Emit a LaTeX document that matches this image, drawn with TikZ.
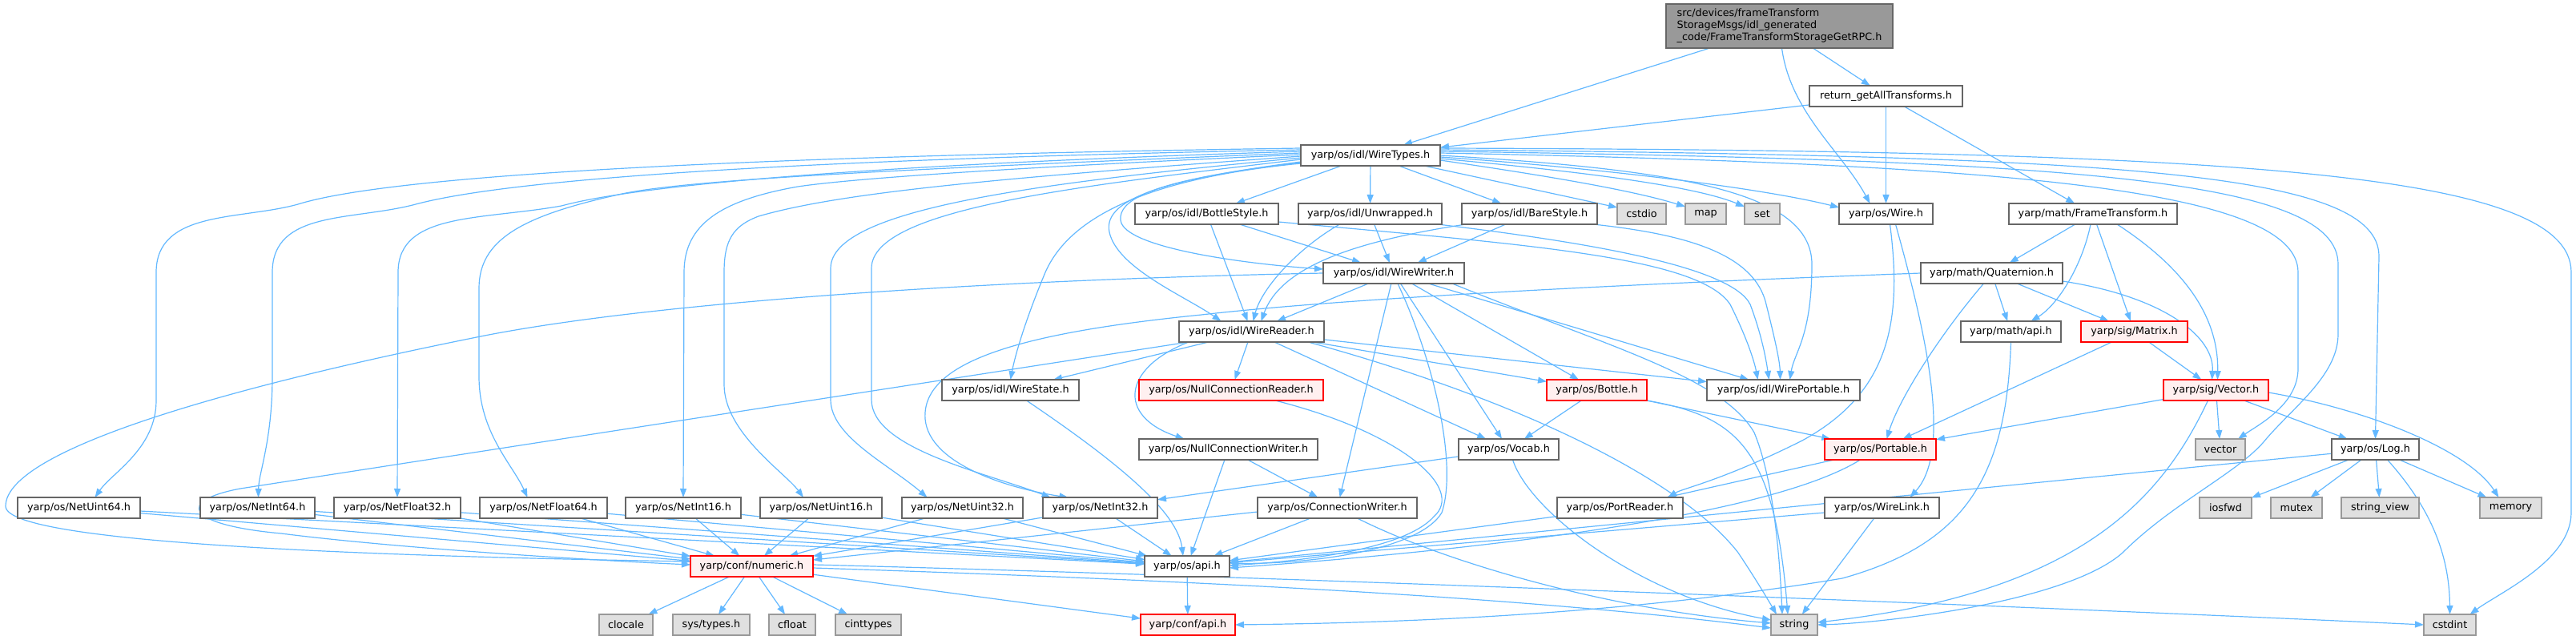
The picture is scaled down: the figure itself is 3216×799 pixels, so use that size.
\documentclass[tikz,border=0pt]{standalone}
\usepackage{fontspec}
\setmainfont{DejaVu Sans}
\usetikzlibrary{arrows.meta,calc}
\definecolor{edgec}{HTML}{63B8FF}
\definecolor{bordc}{HTML}{666666}
\definecolor{mainf}{HTML}{999999}
\definecolor{redb}{HTML}{FF0000}
\definecolor{redf}{HTML}{FFF0F0}
\definecolor{sysf}{HTML}{E0E0E0}
\definecolor{sysb}{HTML}{999999}
\pgfdeclarelayer{bg}
\pgfsetlayers{bg,main}
\begin{document}
\begin{tikzpicture}[x=1pt,y=-1pt,
  box/.style={draw=bordc, fill=white, line width=1.3pt, inner sep=0pt, outer sep=0pt, minimum height=26pt, font=\fontsize{12.8}{15}\selectfont},
  redbox/.style={box, draw=redb, fill=redf},
  sysbox/.style={box, draw=sysb, fill=sysf},
  ar/.style={draw=edgec, line width=1.2pt, -{Triangle[length=11pt,width=8pt]}}]
\useasboundingbox (0,0) rectangle (3216,799);
% nodes
\node[box, fill=mainf, minimum width=283pt, minimum height=55pt, align=left] (M) at (2221.5,32.5) {src/devices/frameTransform\\StorageMsgs/idl\_generated\\\_code/FrameTransformStorageGetRPC.h};
\node[box, minimum width=191pt] (RG) at (2354.5,120) {return\_getAllTransforms.h};
\node[box, minimum width=174pt] (WT) at (1711,194) {yarp/os/idl/WireTypes.h};
\node[box, minimum width=179pt] (BS) at (1506.5,267) {yarp/os/idl/BottleStyle.h};
\node[box, minimum width=179pt] (UW) at (1710.5,267) {yarp/os/idl/Unwrapped.h};
\node[box, minimum width=169pt] (BA) at (1909.5,267) {yarp/os/idl/BareStyle.h};
\node[sysbox, minimum width=61pt] (cstdio) at (2049.5,267) {cstdio};
\node[sysbox, minimum width=51pt] (map) at (2129.5,267) {map};
\node[sysbox, minimum width=44pt] (set) at (2200,267) {set};
\node[box, minimum width=117pt] (Wire) at (2354.5,267) {yarp/os/Wire.h};
\node[box, minimum width=210pt] (FT) at (2613,267) {yarp/math/FrameTransform.h};
\node[box, minimum width=176pt] (WW) at (1740,341) {yarp/os/idl/WireWriter.h};
\node[box, minimum width=177pt] (Quat) at (2486.5,341) {yarp/math/Quaternion.h};
\node[box, minimum width=181pt] (WR) at (1562.5,414) {yarp/os/idl/WireReader.h};
\node[box, minimum width=125pt] (mathapi) at (2510.5,414) {yarp/math/api.h};
\node[redbox, minimum width=133pt] (Matrix) at (2664.5,414) {yarp/sig/Matrix.h};
\node[box, minimum width=171pt] (WS) at (1261.5,487) {yarp/os/idl/WireState.h};
\node[redbox, minimum width=230pt] (NCR) at (1537,487) {yarp/os/NullConnectionReader.h};
\node[redbox, minimum width=125pt] (Bottle) at (1993.5,487) {yarp/os/Bottle.h};
\node[box, minimum width=191pt] (WP) at (2226.5,487) {yarp/os/idl/WirePortable.h};
\node[redbox, minimum width=131pt] (Vector) at (2766.5,487) {yarp/sig/Vector.h};
\node[box, minimum width=223pt] (NCW) at (1533.5,561) {yarp/os/NullConnectionWriter.h};
\node[box, minimum width=125pt] (Vocab) at (1883.5,561) {yarp/os/Vocab.h};
\node[redbox, minimum width=139pt] (Portable) at (2347.5,561) {yarp/os/Portable.h};
\node[sysbox, minimum width=62pt] (vector) at (2772,561) {vector};
\node[box, minimum width=109pt] (Log) at (2965.5,561) {yarp/os/Log.h};
\node[box, minimum width=153pt] (NU64) at (98.5,634) {yarp/os/NetUint64.h};
\node[box, minimum width=143pt] (NI64) at (321.5,634) {yarp/os/NetInt64.h};
\node[box, minimum width=158pt] (NF32) at (496,634) {yarp/os/NetFloat32.h};
\node[box, minimum width=159pt] (NF64) at (678.5,634) {yarp/os/NetFloat64.h};
\node[box, minimum width=144pt] (NI16) at (853,634) {yarp/os/NetInt16.h};
\node[box, minimum width=152pt] (NU16) at (1025,634) {yarp/os/NetUint16.h};
\node[box, minimum width=151pt] (NU32) at (1201.5,634) {yarp/os/NetUint32.h};
\node[box, minimum width=143pt] (NI32) at (1373.5,634) {yarp/os/NetInt32.h};
\node[box, minimum width=199pt] (ConnW) at (1669.5,634) {yarp/os/ConnectionWriter.h};
\node[box, minimum width=157pt] (PortReader) at (2022.5,634) {yarp/os/PortReader.h};
\node[box, minimum width=143pt] (WireLink) at (2349.5,634) {yarp/os/WireLink.h};
\node[sysbox, minimum width=65pt] (iosfwd) at (2778.5,634) {iosfwd};
\node[sysbox, minimum width=64pt] (mutex) at (2867,634) {mutex};
\node[sysbox, minimum width=97pt] (strview) at (2971.5,634) {string\_view};
\node[sysbox, minimum width=77pt] (memory) at (3134.5,634) {memory};
\node[redbox, minimum width=153pt] (numeric) at (938.5,707) {yarp/conf/numeric.h};
\node[box, minimum width=106pt] (osapi) at (1482,707) {yarp/os/api.h};
\node[sysbox, minimum width=67pt] (clocale) at (781.5,780) {clocale};
\node[sysbox, minimum width=96pt] (systypes) at (888,780) {sys/types.h};
\node[sysbox, minimum width=58pt] (cfloat) at (989,780) {cfloat};
\node[sysbox, minimum width=82pt] (cinttypes) at (1084,780) {cinttypes};
\node[redbox, minimum width=118pt] (confapi) at (1483,780) {yarp/conf/api.h};
\node[sysbox, minimum width=58pt] (string) at (2240,780) {string};
\node[sysbox, minimum width=65pt] (cstdint) at (3058.5,780) {cstdint};
\begin{pgfonlayer}{bg}
% main and return_getAllTransforms
\draw[ar] (M) -- (WT);
\draw[ar] (M) -- (RG);
\draw[ar] ($(M.south)+(3,0)$) .. controls (2235,140) and (2300,190) .. ($(Wire.north)+(-20,0)$);
\draw[ar] (RG) -- (WT);
\draw[ar] (RG) -- (Wire);
\draw[ar] (RG) -- (FT);
% WireTypes, near
\draw[ar] (WT) -- (BS);
\draw[ar] (WT) -- (UW);
\draw[ar] (WT) -- (BA);
\draw[ar] ($(WT.south east)+(-20,0)$) -- ($(cstdio.west)+(0,-8)$);
\draw[ar] ($(WT.east)+(0,6)$) .. controls (1900,215) and (2030,235) .. ($(map.west)+(0,-9)$);
\draw[ar] ($(WT.east)+(0,4)$) .. controls (1950,212) and (2110,230) .. ($(set.west)+(0,-9)$);
\draw[ar] ($(WT.east)+(0,2)$) .. controls (2000,210) and (2200,235) .. ($(Wire.west)+(0,-8)$);
\draw[ar] ($(WT.east)+(0,0)$) .. controls (2100,212) and (2262,240) .. (2262,330) .. controls (2262,420) and (2240,440) .. ($(WP.north)+(8,0)$);
\draw[ar] ($(WT.east)+(0,-3)$) .. controls (2500,205) and (2869,235) .. (2869,340) -- (2869,460) .. controls (2869,505) and (2820,530) .. ($(vector.north)+(22,0)$);
\draw[ar] ($(WT.east)+(0,-5)$) .. controls (2600,200) and (2919,225) .. (2919,330) -- (2919,417) .. controls (2919,470) and (2860,510) .. (2825,553) .. controls (2790,592) and (2710,630) .. (2650,690) .. controls (2580,752) and (2350,778) .. (string.east);
\draw[ar] ($(WT.east)+(0,-7)$) .. controls (2650,195) and (2970,215) .. (2970,320) -- (Log.north);
\draw[ar] ($(WT.east)+(0,-9)$) .. controls (2800,188) and (3210,215) .. (3210,340) -- (3210,640) .. controls (3210,700) and (3120,740) .. ($(cstdint.north)+(25,0)$);
% WireTypes, left
\draw[ar] ($(WT.west)+(0,9)$) .. controls (1480,220) and (1395,240) .. (1399,275) .. controls (1403,310) and (1560,330) .. ($(WW.west)+(0,-5)$);
\draw[ar] ($(WT.west)+(0,8)$) .. controls (1470,222) and (1375,245) .. (1385,290) .. controls (1395,335) and (1480,370) .. ($(WR.north)+(-38,0)$);
\draw[ar] ($(WT.west)+(0,10)$) .. controls (1460,220) and (1340,260) .. (1305,340) .. controls (1282,395) and (1268,440) .. (WS.north);
\draw[ar] ($(WT.west)+(0,-9)$) .. controls (1000,194) and (500,215) .. (372,255) .. controls (300,275) and (195,262) .. (195,340) -- (195,500) .. controls (195,560) and (140,590) .. ($(NU64.north)+(20,0)$);
\draw[ar] ($(WT.west)+(0,-7)$) .. controls (1050,198) and (650,220) .. (519,255) .. controls (440,276) and (340,262) .. (340,340) -- (340,470) .. controls (340,550) and (323,590) .. ($(NI64.north)+(1,0)$);
\draw[ar] ($(WT.west)+(0,-5)$) .. controls (1100,205) and (800,230) .. (701,257) .. controls (600,275) and (497,265) .. (497,340) -- (NF32.north);
\draw[ar] ($(WT.west)+(0,-3)$) .. controls (1100,212) and (850,225) .. (772,243) .. controls (650,270) and (598,300) .. (598,360) -- (598,470) .. controls (598,540) and (640,580) .. ($(NF64.north)+(-20,0)$);
\draw[ar] ($(WT.west)+(0,-1)$) .. controls (1200,212) and (1050,225) .. (996,233) .. controls (900,250) and (854,280) .. (854,340) -- (NI16.north);
\draw[ar] ($(WT.west)+(0,1)$) .. controls (1250,222) and (1050,240) .. (947,270) .. controls (915,282) and (904,300) .. (904,340) -- (904,480) .. controls (904,540) and (980,590) .. ($(NU16.north)+(-22,0)$);
\draw[ar] ($(WT.west)+(0,3)$) .. controls (1300,228) and (1037,260) .. (1037,335) -- (1037,499) .. controls (1037,545) and (1110,580) .. ($(NU32.north)+(-44,0)$);
\draw[ar] ($(WT.west)+(0,5)$) .. controls (1350,232) and (1088,260) .. (1088,335) -- (1088,499) .. controls (1088,560) and (1230,590) .. ($(NI32.north)+(-62,0)$);
% BottleStyle, Unwrapped, BareStyle
\draw[ar] (BS) -- (WR);
\draw[ar] (BS) -- (WW);
\draw[ar] ($(BS.east)+(0,10)$) .. controls (1900,305) and (2120,320) .. (2160,380) .. controls (2180,420) and (2190,450) .. ($(WP.north)+(-32,0)$);
\draw[ar] ($(UW.south)+(-38,0)$) .. controls (1620,310) and (1575,360) .. ($(WR.north)+(2,0)$);
\draw[ar] (UW) -- (WW);
\draw[ar] ($(UW.south east)+(-5,0)$) .. controls (1960,300) and (2160,330) .. (2185,380) .. controls (2200,420) and (2205,450) .. ($(WP.north)+(-18,0)$);
\draw[ar] ($(BA.south west)+(5,0)$) .. controls (1700,300) and (1600,330) .. ($(WR.north)+(12,0)$);
\draw[ar] (BA) -- (WW);
\draw[ar] ($(BA.south east)+(-5,0)$) .. controls (2100,292) and (2190,315) .. (2205,380) .. controls (2215,420) and (2222,450) .. ($(WP.north)+(-4,0)$);
% WireWriter
\draw[ar] (WW) -- (WR);
\draw[ar] (WW) -- (ConnW);
\draw[ar] ($(WW.south)+(5,0)$) .. controls (1790,450) and (1820,580) .. (1800,640) .. controls (1770,690) and (1620,705) .. ($(osapi.east)+(0,-4)$);
\draw[ar] (WW) -- (Vocab);
\draw[ar] (WW) -- (Bottle);
\draw[ar] (WW) -- (WP);
\draw[ar] ($(WW.south east)+(-15,0)$) .. controls (2000,430) and (2150,470) .. (2190,540) .. controls (2215,600) and (2222,700) .. ($(string.north)+(-15,0)$);
\draw[ar] (WW.west) .. controls (1200,350) and (800,380) .. (600,420) .. controls (300,480) and (7,560) .. (7,632) .. controls (7,680) and (500,695) .. ($(numeric.west)+(0,-6)$);
% WireReader
\draw[ar] ($(WR.south west)+(12,0)$) -- (300,610) .. controls (220,625) and (230,655) .. (351,666) .. controls (500,685) and (750,700) .. ($(numeric.west)+(0,-2)$);
\draw[ar] (WR) -- (WS);
\draw[ar] ($(WR.south west)+(12,0)$) .. controls (1400,460) and (1395,520) .. ($(NCW.north)+(-55,0)$);
\draw[ar] (WR) -- (NCR);
\draw[ar] (WR) -- (Vocab);
\draw[ar] (WR) -- (Bottle);
\draw[ar] (WR) -- (WP);
\draw[ar] ($(WR.south east)+(-20,0)$) .. controls (1900,500) and (2100,600) .. (2170,690) .. controls (2190,720) and (2205,745) .. ($(string.north)+(-22,0)$);
% WireState, Null*, ConnectionWriter
\draw[ar] ($(WS.south)+(20,0)$) .. controls (1400,580) and (1470,640) .. ($(osapi.north)+(-5,0)$);
\draw[ar] ($(NCR.south)+(55,0)$) .. controls (1750,540) and (1830,610) .. (1790,645) .. controls (1750,690) and (1600,702) .. ($(osapi.east)+(0,-1)$);
\draw[ar] (NCW) -- (ConnW);
\draw[ar] (NCW) -- (osapi);
\draw[ar] ($(ConnW.west)+(0,5)$) -- ($(numeric.east)+(0,-8)$);
\draw[ar] (ConnW) -- (osapi);
\draw[ar] ($(ConnW.south)+(25,0)$) .. controls (1800,700) and (2000,760) .. ($(string.west)+(0,-2)$);
% Vocab, Bottle
\draw[ar] (Vocab) -- (NI32);
\draw[ar] ($(Vocab.south)+(5,0)$) .. controls (1910,640) and (2050,745) .. ($(string.west)+(0,-6)$);
\draw[ar] (Bottle) -- (Vocab);
\draw[ar] (Bottle) -- (Portable);
\draw[ar] (Bottle.south east) .. controls (2170,520) and (2215,560) .. ($(string.north)+(-8,0)$);
% Quaternion, FrameTransform, math
\draw[ar] (Quat.west) .. controls (2100,352) and (1700,370) .. (1500,393) .. controls (1280,415) and (1150,450) .. (1155,523) .. controls (1160,580) and (1260,610) .. ($(NI32.north)+(-40,0)$);
\draw[ar] ($(Quat.south)+(-10,0)$) .. controls (2420,420) and (2370,500) .. ($(Portable.north)+(8,0)$);
\draw[ar] (Quat) -- (mathapi);
\draw[ar] (Quat) -- (Matrix);
\draw[ar] ($(Quat.east)+(0,10)$) .. controls (2700,370) and (2765,420) .. ($(Vector.north)+(-5,0)$);
\draw[ar] (FT) -- (Quat);
\draw[ar] ($(FT.south)+(-3,0)$) .. controls (2600,330) and (2570,380) .. ($(mathapi.north)+(25,0)$);
\draw[ar] (FT) -- (Matrix);
\draw[ar] ($(FT.south)+(30,0)$) .. controls (2720,330) and (2770,390) .. ($(Vector.north)+(2,0)$);
\draw[ar] (Matrix) -- (Portable);
\draw[ar] (Matrix) -- (Vector);
\draw[ar] (mathapi.south) .. controls (2505,600) and (2450,680) .. (2300,722) .. controls (2000,772) and (1700,778) .. (confapi.east);
% Vector, Log
\draw[ar] (Vector) -- (Portable);
\draw[ar] (Vector) -- (vector);
\draw[ar] (Vector) -- (Log);
\draw[ar] ($(Vector.east)+(0,3)$) .. controls (2950,510) and (3080,560) .. ($(memory.north)+(-15,0)$);
\draw[ar] ($(Vector.south)+(-10,0)$) .. controls (2700,620) and (2600,740) .. ($(string.east)+(0,-3)$);
\draw[ar] (Log) -- (osapi);
\draw[ar] (Log) -- (iosfwd);
\draw[ar] (Log) -- (mutex);
\draw[ar] (Log) -- (strview);
\draw[ar] (Log) -- (memory);
\draw[ar] ($(Log.south)+(15,0)$) .. controls (3040,640) and (3058,700) .. (cstdint.north);
% Portable, PortReader, Wire, WireLink
\draw[ar] (Portable) -- (PortReader);
\draw[ar] ($(Portable.south)+(-25,0)$) .. controls (2200,650) and (1800,690) .. ($(osapi.east)+(0,2)$);
\draw[ar] (PortReader) -- (osapi);
\draw[ar] (WireLink) -- (osapi);
\draw[ar] (WireLink) -- (string);
\draw[ar] ($(Wire.south)+(5,0)$) .. controls (2375,400) and (2360,490) .. (2250,550) .. controls (2150,600) and (2100,610) .. ($(PortReader.north)+(60,0)$);
\draw[ar] ($(Wire.south)+(12,0)$) .. controls (2400,400) and (2440,560) .. ($(WireLink.north)+(35,0)$);
% Net types
\foreach \n in {NU64,NI64,NF32,NF64,NI16,NU16,NU32,NI32} {
  \draw[ar] (\n) -- (numeric);
  \draw[ar] (\n) -- (osapi);
}
% numeric, os/api
\draw[ar] (numeric) -- (clocale);
\draw[ar] (numeric) -- (systypes);
\draw[ar] (numeric) -- (cfloat);
\draw[ar] (numeric) -- (cinttypes);
\draw[ar] (numeric) -- (confapi);
\draw[ar] ($(numeric.east)+(0,2)$) .. controls (1500,725) and (1900,745) .. ($(string.west)+(0,4)$);
\draw[ar] ($(numeric.east)+(0,-2)$) .. controls (1600,720) and (2600,760) .. (cstdint.west);
\draw[ar] (osapi) -- (confapi);
\end{pgfonlayer}
\end{tikzpicture}
\end{document}
